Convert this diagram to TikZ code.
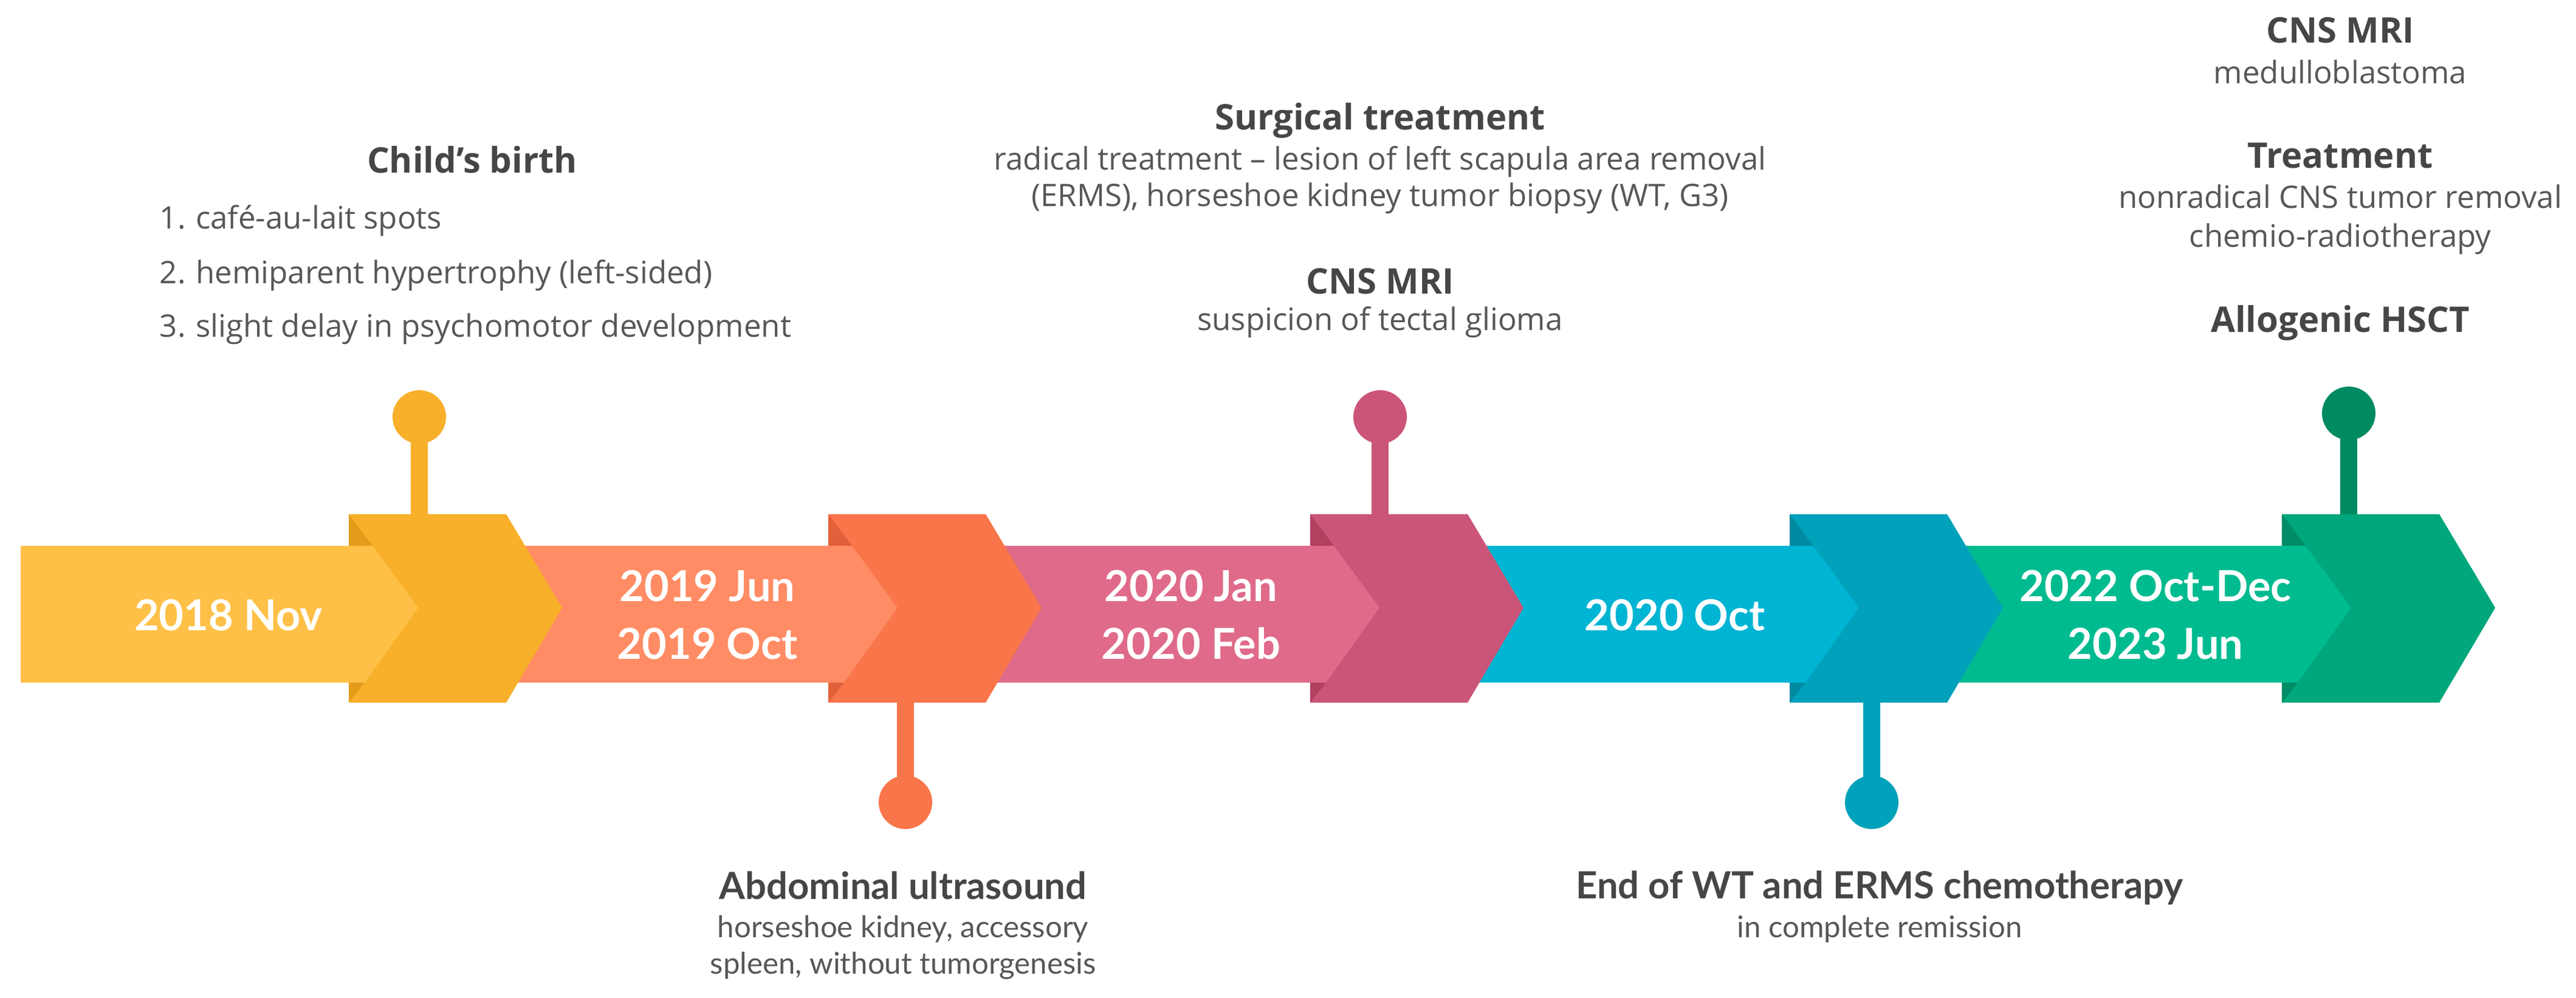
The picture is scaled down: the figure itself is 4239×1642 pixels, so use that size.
\documentclass[tikz,border=0pt]{standalone}
\usepackage{fontspec}
\setmainfont{Open Sans}
\newfontfamily\latofont{Lato}
\usepackage{tikz}

\definecolor{yellowL}{HTML}{FEC046}
\definecolor{yellowD}{HTML}{F8AF2A}
\definecolor{yellowF}{HTML}{E49B1A}
\definecolor{salmonL}{HTML}{FF8C64}
\definecolor{orangeD}{HTML}{F9754A}
\definecolor{orangeF}{HTML}{E2603A}
\definecolor{pinkL}{HTML}{DF6A8A}
\definecolor{pinkD}{HTML}{CB5578}
\definecolor{pinkF}{HTML}{B0415F}
\definecolor{cyanL}{HTML}{00B4D3}
\definecolor{tealD}{HTML}{00A1BA}
\definecolor{tealF}{HTML}{008AA2}
\definecolor{greenL}{HTML}{00BB90}
\definecolor{greenD}{HTML}{00A67C}
\definecolor{greenF}{HTML}{008C66}
\definecolor{greenP}{HTML}{008A61}
\definecolor{headgray}{HTML}{464646}
\definecolor{bodygray}{HTML}{575757}

% #1 chevron left, #2 strip start, #3 light, #4 dark, #5 fold, #6 name
\newcommand{\ribbonseg}[6]{%
  \fill[#4] (#1,846) -- ++(259,0) -- ++(92,154) -- ++(-92,156) -- ++(-259,0) -- cycle;
  \fill[#5] (#1,846) -- ++(39,52) -- ++(-39,0) -- cycle;
  \fill[#5] (#1,1156) -- ++(26,-33) -- ++(-26,0) -- cycle;
  \fill[#3] (#2,898) -- (#1+39,898) -- (#1+114,1000) -- (#1+26,1123) -- (#2,1123) -- cycle;
  \coordinate (#6top) at (#1+120,846);
  \coordinate (#6bot) at (#1+120,1156)}
\newcommand{\pinpt}[3]{\node[pindot,fill=#1] (#2) at (#3) {}}

\tikzset{
  pindot/.style={circle,inner sep=0pt,minimum size=17.6mm},
  stem/.style={line width=5.6mm},
  yearlbl/.style={font=\latofont\bfseries\fontsize{40}{54}\selectfont,text=white,align=center,inner sep=0pt},
  head/.style={font=\bfseries\fontsize{33}{40}\selectfont,text=headgray,inner sep=0pt,anchor=base},
  body/.style={font=\fontsize{29}{35}\selectfont,text=bodygray,inner sep=0pt,anchor=base},
  lowhead/.style={font=\latofont\bfseries\fontsize{35}{42}\selectfont,text=headgray,inner sep=0pt,anchor=base},
  lowbody/.style={font=\latofont\fontsize{28}{34}\selectfont,text=bodygray,inner sep=0pt,anchor=base}
}

\begin{document}
\begin{tikzpicture}[x=0.2mm,y=-0.2mm]
  \useasboundingbox (0,0) rectangle (4239,1642);
  % ribbon, right to left so each chevron covers the next strip
  \ribbonseg{3755}{3145}{greenL}{greenD}{greenF}{e};
  \ribbonseg{2945}{2356}{cyanL}{tealD}{tealF}{d};
  \ribbonseg{2156}{1563}{pinkL}{pinkD}{pinkF}{c};
  \ribbonseg{1363}{774}{salmonL}{orangeD}{orangeF}{b};
  \ribbonseg{574}{34}{yellowL}{yellowD}{yellowF}{a};

  \node[yearlbl] (yrA) at (376,1012) {2018 Nov};
  \node[yearlbl] (yrB) at (1164,1012) {2019 Jun\\2019 Oct};
  \node[yearlbl] (yrC) at (1960,1012) {2020 Jan\\2020 Feb};
  \node[yearlbl] (yrD) at (2756,1012) {2020 Oct};
  \node[yearlbl] (yrE) at (3547,1012) {2022 Oct-Dec\\2023 Jun};

  % pins
  \pinpt{yellowD}{pinA}{690,686};
  \pinpt{orangeD}{pinB}{1490,1320};
  \pinpt{pinkD}{pinC}{2271,686};
  \pinpt{tealD}{pinD}{3080,1320};
  \pinpt{greenP}{pinE}{3865,680};
  \draw[stem,yellowD] (pinA.center) -- (pinA |- atop);
  \draw[stem,orangeD] (pinB.center) -- (pinB |- bbot);
  \draw[stem,pinkD]   (pinC.center) -- (pinC |- ctop);
  \draw[stem,tealD]   (pinD.center) -- (pinD |- dbot);
  \draw[stem,greenP]  (pinE.center) -- (pinE |- etop);

  % child's birth
  \node[head] (birth) at (777,285) {Child’s birth};
  \node[body,anchor=base east] (numA) at (306,376) {1.};
  \node[body,anchor=base east] (numB) at (306,466) {2.};
  \node[body,anchor=base east] (numC) at (306,554) {3.};
  \node[body,anchor=base west] (itemA) at (322,376) {café-au-lait spots};
  \node[body,anchor=base west] (itemB) at (322,466) {hemiparent hypertrophy (left-sided)};
  \node[body,anchor=base west] (itemC) at (322,554) {slight delay in psychomotor development};

  % surgery and first MRI
  \node[head] (surg) at (2271,214) {Surgical treatment};
  \node[body] (surgA) at (2271,280) {radical treatment – lesion of left scapula area removal};
  \node[body] (surgB) at (2271,340) {(ERMS), horseshoe kidney tumor biopsy (WT, G3)};
  \node[head] (mriA) at (2271,483) {CNS MRI};
  \node[body] (mriAtxt) at (2271,543) {suspicion of tectal glioma};

  % last column
  \node[head] (mriB) at (3851,71) {CNS MRI};
  \node[body] (mriBtxt) at (3851,138) {medulloblastoma};
  \node[head] (treat) at (3851,277) {Treatment};
  \node[body] (treatA) at (3851,343) {nonradical CNS tumor removal};
  \node[body] (treatB) at (3851,406) {chemio-radiotherapy};
  \node[head] (hsct) at (3851,546) {Allogenic HSCT};

  % below the ribbon
  \node[lowhead] (usg) at (1486,1479) {Abdominal ultrasound};
  \node[lowbody] (usgA) at (1486,1542) {horseshoe kidney, accessory};
  \node[lowbody] (usgB) at (1486,1602) {spleen, without tumorgenesis};
  \node[lowhead] (chemo) at (3093,1478) {End of WT and ERMS chemotherapy};
  \node[lowbody] (chemoA) at (3093,1542) {in complete remission};
\end{tikzpicture}
\end{document}
